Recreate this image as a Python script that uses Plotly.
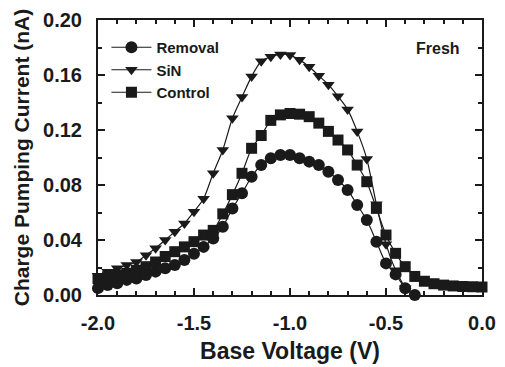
import plotly.graph_objects as go

voltage = [round(-2.0 + 0.05 * i, 2) for i in range(41)]

removal_v = voltage[:34]  # -2.0 .. -0.35
removal_i = [0.0050, 0.0073, 0.0085, 0.0110, 0.0120, 0.0145, 0.0170, 0.0194, 0.0218, 0.0255,
             0.0300, 0.0350, 0.0411, 0.0496, 0.0629, 0.0740, 0.0860, 0.0945, 0.0994, 0.1018,
             0.1018, 0.0994, 0.0970, 0.0945, 0.0897, 0.0836, 0.0764, 0.0655, 0.0545, 0.0388,
             0.0230, 0.0150, 0.0049, 0.0000]

sin_v = voltage[:33]  # -2.0 .. -0.4
sin_i = [0.0140, 0.0170, 0.0194, 0.0218, 0.0240, 0.0290, 0.0340, 0.0400, 0.0460, 0.0520,
         0.0606, 0.0700, 0.0885, 0.1055, 0.1285, 0.1440, 0.1590, 0.1700, 0.1733, 0.1750,
         0.1745, 0.1710, 0.1660, 0.1595, 0.1530, 0.1445, 0.1350, 0.1190, 0.0990, 0.0660,
         0.0370, 0.0180, 0.0050]

control_v = voltage
control_i = [0.0120, 0.0133, 0.0145, 0.0158, 0.0180, 0.0206, 0.0240, 0.0280, 0.0315, 0.0350,
             0.0388, 0.0436, 0.0470, 0.0590, 0.0730, 0.0885, 0.1067, 0.1160, 0.1270, 0.1310,
             0.1320, 0.1315, 0.1297, 0.1250, 0.1190, 0.1127, 0.1055, 0.0945, 0.0824, 0.0630,
             0.0436, 0.0303, 0.0206, 0.0135, 0.0100, 0.0082, 0.0072, 0.0066, 0.0062, 0.0060,
             0.0058]

x_ticks = [-2.0, -1.5, -1.0, -0.5, 0.0]
x_ticklabels = ["-2.0", "-1.5", "-1.0", "-0.5", "0.0"]
y_ticks = [0.00, 0.04, 0.08, 0.12, 0.16, 0.20]
y_ticklabels = ["0.00", "0.04", "0.08", "0.12", "0.16", "0.20"]

FONT = "Liberation Sans, Arial, sans-serif"
INK = "#1a1a1a"

fig = go.Figure()
fig.add_trace(go.Scatter(x=sin_v, y=sin_i, name="SiN", mode="lines+markers", legendrank=2,
                         line=dict(color=INK, width=1.2, shape="spline", smoothing=0.6),
                         marker=dict(symbol="triangle-down", size=11, color=INK),
                         cliponaxis=False))
fig.add_trace(go.Scatter(x=control_v, y=control_i, name="Control", mode="lines+markers", legendrank=3,
                         line=dict(color=INK, width=1.2, shape="spline", smoothing=0.6),
                         marker=dict(symbol="square", size=11, color=INK),
                         cliponaxis=False))
fig.add_trace(go.Scatter(x=removal_v, y=removal_i, name="Removal", mode="lines+markers", legendrank=1,
                         line=dict(color=INK, width=1.2, shape="spline", smoothing=0.6),
                         marker=dict(symbol="circle", size=12, color=INK),
                         cliponaxis=False))

axis_common = dict(showgrid=False, zeroline=False, showline=True, linecolor=INK, linewidth=2,
                   mirror="ticks", ticks="inside", tickwidth=2, ticklen=7, tickcolor=INK,
                   automargin=False,
                   tickfont=dict(family=FONT, size=20, color=INK, weight="bold"))

fig.update_xaxes(range=[-2.0, 0.0], tickmode="array", tickvals=x_ticks, ticktext=x_ticklabels,
                 ticklabelstandoff=9,
                 minor=dict(dtick=0.1, ticks="inside", ticklen=4, tickwidth=1.5, tickcolor=INK),
                 title=dict(text="Base Voltage (V)", font=dict(family=FONT, size=23, color=INK, weight="bold"),
                            standoff=10),
                 **axis_common)
fig.update_yaxes(range=[0.0, 0.20], tickmode="array", tickvals=y_ticks, ticktext=y_ticklabels,
                 ticklabelstandoff=10,
                 minor=dict(dtick=0.02, ticks="inside", ticklen=4, tickwidth=1.5, tickcolor=INK),
                 title=dict(text="Charge Pumping Current (nA)", font=dict(family=FONT, size=21, color=INK, weight="bold"),
                            standoff=8),
                 **axis_common)

fig.add_annotation(text="Fresh", x=0.885, y=0.898, xref="paper", yref="paper", showarrow=False,
                   xanchor="center", yanchor="middle",
                   font=dict(family=FONT, size=16, color=INK, weight="bold"))

fig.update_layout(width=505, height=367, margin=dict(l=98, r=23, t=20, b=72),
                  plot_bgcolor="white", paper_bgcolor="white",
                  legend=dict(x=0.022, y=0.96, xanchor="left", yanchor="top", bgcolor="rgba(0,0,0,0)",
                              font=dict(family=FONT, size=15, color=INK, weight="bold"),
                              itemwidth=40, tracegroupgap=0))

fig.write_html("out.html")
